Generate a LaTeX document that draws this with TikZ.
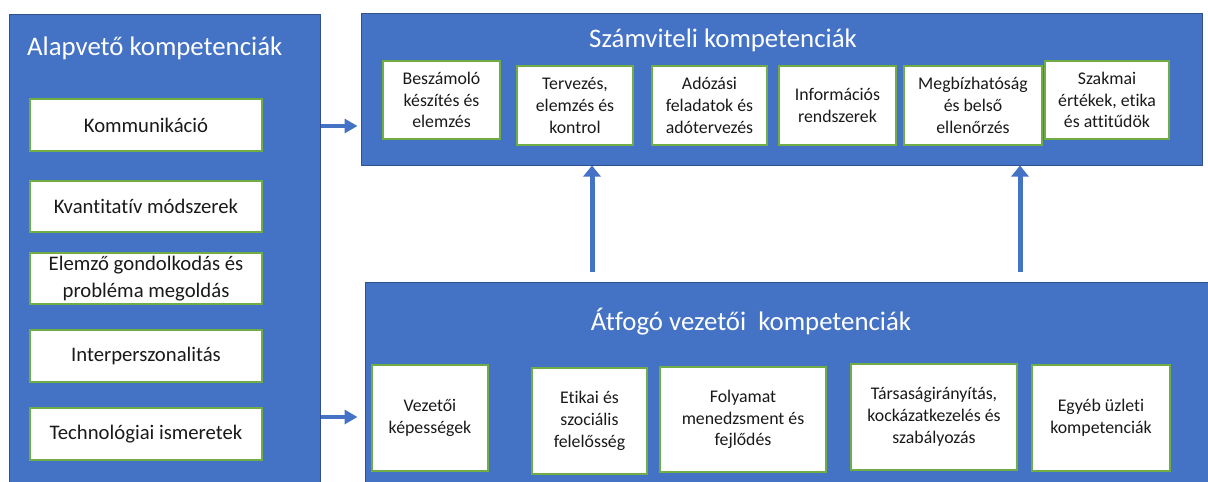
\documentclass[tikz,border=0pt]{standalone}
\usepackage{fontspec}
\setmainfont{Carlito}[Ligatures=NoCommon]
\usetikzlibrary{arrows.meta}
\definecolor{pblue}{HTML}{4472C4}
\definecolor{pborder}{HTML}{2F528F}
\definecolor{bgreen}{HTML}{70AD47}
\definecolor{txt}{HTML}{1A1A1A}
\tikzset{
  panel/.style={draw=pborder, line width=1pt, fill=pblue, inner sep=0pt},
  inbox/.style={draw=bgreen, line width=1.3pt, fill=white, inner sep=0pt, align=center, text=txt},
  topbox/.style={inbox, font=\fontsize{17.8}{21.7}\selectfont},
  leftbox/.style={inbox, minimum width=232pt, font=\fontsize{20.7}{26.5}\selectfont},
  ttl/.style={text=white, inner sep=0pt, font=\fontsize{26.8}{30}\selectfont},
  harrow/.style={draw=pblue, line width=4pt, -{Triangle[width=14pt,length=13pt]}},
  varrow/.style={draw=pblue, line width=5pt, -{Triangle[width=17pt,length=11pt]}},
}
\begin{document}
\begin{tikzpicture}[x=1pt,y=-1pt]
\useasboundingbox (0,0) rectangle (1208,482);
% panels
\node[panel, minimum width=311pt, minimum height=472pt] (lp) at (164.5,250) {};
\node[panel, minimum width=841pt, minimum height=152pt] (tp) at (781.5,89) {};
\node[panel, minimum width=846pt, minimum height=204pt] (bp) at (788,384) {};
% titles
\node[ttl, anchor=west] (lt) at (27,48) {Alapvető kompetenciák};
\node[ttl] (tt) at (723,40) {Számviteli kompetenciák};
\node[ttl] (bt) at (751,322) {Átfogó vezetői\ \ kompetenciák};
% left boxes
\node[leftbox, minimum height=52pt] (l1) at (146,125) {Kommunikáció};
\node[leftbox, minimum height=51pt] (l2) at (146,206.5) {Kvantitatív módszerek};
\node[leftbox, minimum height=51pt] (l3) at (146,278.5) {Elemző gondolkodás és\\probléma megoldás};
\node[leftbox, minimum height=52pt] (l4) at (146,356) {Interperszonalitás};
\node[leftbox, minimum height=52pt] (l5) at (146,434) {Technológiai ismeretek};
% top boxes
\node[topbox, minimum width=117pt, minimum height=78pt] (t1) at (441.5,100) {Beszámoló\\készítés és\\elemzés};
\node[topbox, minimum width=116pt, minimum height=79pt] (t2) at (575,105.5) {Tervezés,\\elemzés és\\kontrol};
\node[topbox, minimum width=115pt, minimum height=79pt] (t3) at (709.5,105.5) {Adózási\\feladatok és\\adótervezés};
\node[topbox, minimum width=117pt, minimum height=79pt] (t4) at (837.5,105.5) {Információs\\rendszerek};
\node[topbox, minimum width=138pt, minimum height=79pt] (t5) at (973,105.5) {Megbízhatóság\\és belső\\ellenőrzés};
\node[topbox, minimum width=124pt, minimum height=78pt] (t6) at (1107,100) {Szakmai\\értékek, etika\\és attitűdök};
% bottom boxes
\node[topbox, minimum width=116pt, minimum height=106pt] (b1) at (430,418) {Vezetői\\képességek};
\node[topbox, minimum width=115pt, minimum height=106pt] (b2) at (589.5,421) {Etikai és\\szociális\\felelősség};
\node[topbox, minimum width=166pt, minimum height=105pt] (b3) at (743,419.5) {Folyamat\\menedzsment és\\fejlődés};
\node[topbox, minimum width=166pt, minimum height=106pt] (b4) at (934,417) {Társaságirányítás,\\kockázatkezelés és\\szabályozás};
\node[topbox, minimum width=138pt, minimum height=106pt] (b5) at (1101,418) {Egyéb üzleti\\kompetenciák};
% arrows
\draw[harrow] (lp.east |- 0,126) -- ([xshift=-3pt]tp.west |- 0,126);
\draw[harrow] (lp.east |- 0,417) -- ([xshift=-7pt]bp.west |- 0,417);
\draw[varrow] ([yshift=10pt]bp.north -| 592,0) -- (tp.south -| 592,0);
\draw[varrow] ([yshift=10pt]bp.north -| 1020,0) -- (tp.south -| 1020,0);
\end{tikzpicture}
\end{document}
